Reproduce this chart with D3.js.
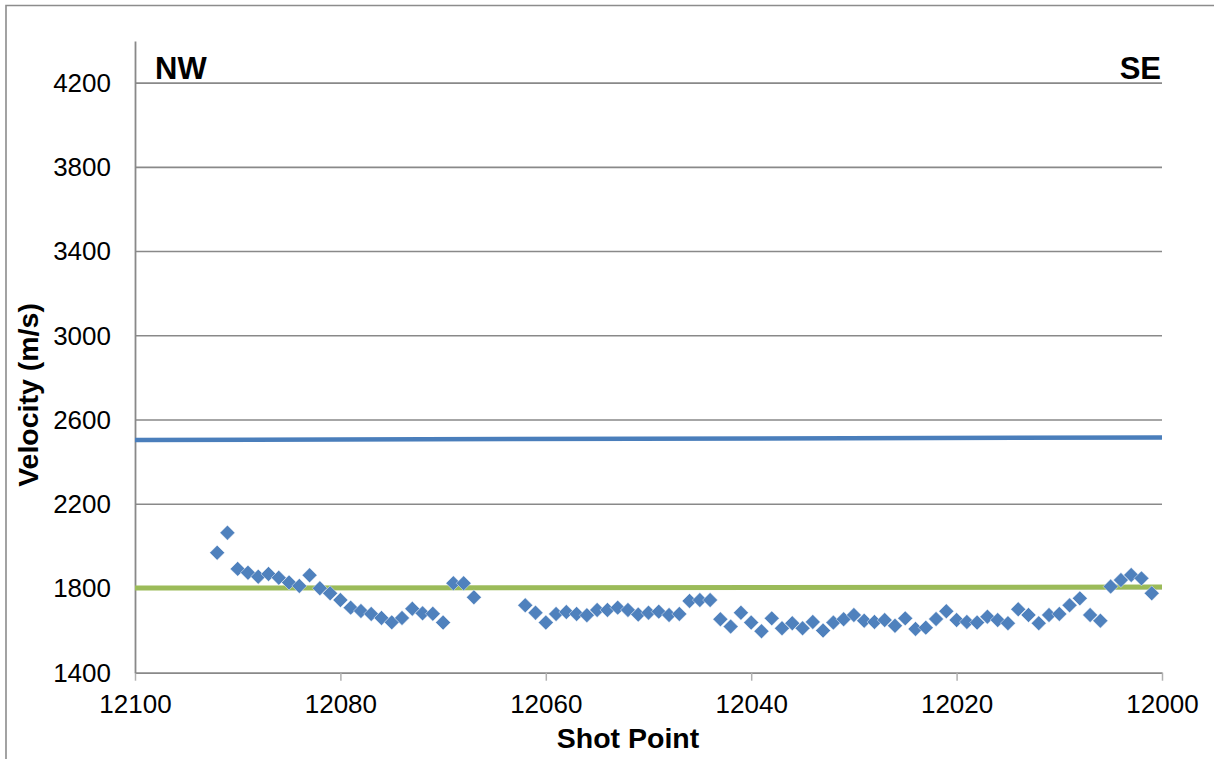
<!DOCTYPE html>
<html>
<head>
<meta charset="utf-8">
<script src="https://cdn.jsdelivr.net/npm/d3@7"></script>
<style>
  html, body { margin: 0; padding: 0; background: #fff; }
  svg { display: block; font-family: "Liberation Sans", Arial, sans-serif; }
</style>
</head>
<body>
<svg id="chart" width="1214" height="759"></svg>
<script>
// ---- data ----
const shotPoints = [
  12092, 12091, 12090, 12089, 12088, 12087, 12086, 12085, 12084, 12083,
  12082, 12081, 12080, 12079, 12078, 12077, 12076, 12075, 12074, 12073,
  12072, 12071, 12070, 12069, 12068, 12067,
  12062, 12061, 12060, 12059, 12058, 12057, 12056, 12055, 12054, 12053,
  12052, 12051, 12050, 12049, 12048, 12047, 12046, 12045, 12044, 12043,
  12042, 12041, 12040, 12039, 12038, 12037, 12036, 12035, 12034, 12033,
  12032, 12031, 12030, 12029, 12028, 12027, 12026, 12025, 12024, 12023,
  12022, 12021, 12020, 12019, 12018, 12017, 12016, 12015, 12014, 12013,
  12012, 12011, 12010, 12009, 12008, 12007, 12006, 12005, 12004, 12003,
  12002, 12001
];
const velocities = [
  1970, 2065, 1893, 1875, 1856, 1869, 1851, 1828, 1812, 1863,
  1801, 1777, 1745, 1709, 1693, 1679, 1660, 1639, 1660, 1704,
  1682, 1680, 1638, 1825, 1825, 1758,
  1720, 1685, 1638, 1679, 1688, 1679, 1673, 1698, 1698, 1709,
  1698, 1676, 1685, 1690, 1674, 1679, 1741, 1745, 1745, 1654,
  1619, 1685, 1638, 1597, 1658, 1611, 1635, 1611, 1641, 1600,
  1638, 1654, 1674, 1647, 1641, 1650, 1623, 1658, 1608, 1614,
  1655, 1692, 1650, 1641, 1638, 1666, 1650, 1635, 1701, 1674,
  1635, 1674, 1679, 1720, 1753, 1674, 1647, 1809, 1840, 1864,
  1848, 1777
];
const blueLineShots = [12100, 12000];
const blueLineValues = [2505, 2517];
const greenLineShots = [12100, 12000];
const greenLineValues = [1802, 1807];
const yTicks = [1400, 1800, 2200, 2600, 3000, 3400, 3800, 4200];
const xTicks = [12100, 12080, 12060, 12040, 12020, 12000];
const xTitle = "Shot Point";
const yTitle = "Velocity (m/s)";
const leftLabel = "NW";
const rightLabel = "SE";

// ---- layout ----
const svg = d3.select("#chart");
const plot = { left: 135, right: 1162, top: 41, bottom: 672.7 };
const x = d3.scaleLinear().domain([12100, 12000]).range([plot.left, plot.right]);
const y = d3.scaleLinear().domain([1400, 4400]).range([plot.bottom, plot.top]);
const gridColor = "#898989";

// outer border
svg.append("path")
  .attr("d", `M6,770 L6,5.5 L1230,5.5`)
  .attr("fill", "none").attr("stroke", "#8c8c8c").attr("stroke-width", 1.6);

// gridlines
svg.append("g").selectAll("line").data(yTicks.filter(d => d > 1400)).join("line")
  .attr("x1", plot.left).attr("x2", plot.right)
  .attr("y1", d => y(d)).attr("y2", d => y(d))
  .attr("stroke", gridColor).attr("stroke-width", 1.6);

// x axis
const xAxis = d3.axisBottom(x).tickValues(xTicks).tickFormat(d3.format("d"))
  .tickSizeInner(8).tickSizeOuter(0).tickPadding(14);
const gx = svg.append("g").attr("transform", `translate(0,${plot.bottom})`).call(xAxis);
gx.select(".domain").attr("stroke", gridColor).attr("stroke-width", 1.8);
gx.selectAll(".tick line").attr("stroke", "#b0b0b0").attr("stroke-width", 1.5);
gx.selectAll(".tick text").attr("font-size", 26).attr("fill", "#000")
  .attr("font-family", "Liberation Sans, Arial, sans-serif");

// y axis
const yAxis = d3.axisLeft(y).tickValues(yTicks).tickFormat(d3.format("d"))
  .tickSize(0).tickPadding(24);
const gy = svg.append("g").attr("transform", `translate(${plot.left},0)`).call(yAxis);
gy.select(".domain").attr("stroke", gridColor).attr("stroke-width", 1.8);
gy.selectAll(".tick text").attr("font-size", 26).attr("fill", "#000")
  .attr("font-family", "Liberation Sans, Arial, sans-serif");

// reference lines
const line = d3.line().x(d => x(d[0])).y(d => y(d[1]));
svg.append("path")
  .datum(d3.zip(blueLineShots, blueLineValues))
  .attr("d", line).attr("fill", "none")
  .attr("stroke", "#4A7EBB").attr("stroke-width", 4.5);
svg.append("path")
  .datum(d3.zip(greenLineShots, greenLineValues))
  .attr("d", line).attr("fill", "none")
  .attr("stroke", "#9BBB59").attr("stroke-width", 5);

// markers
const pts = d3.zip(shotPoints, velocities);
const diamond = d3.symbol().type(d3.symbolSquare).size(112);
svg.append("g").selectAll("path").data(pts).join("path")
  .attr("d", diamond)
  .attr("transform", d => `translate(${x(d[0])},${y(d[1])}) rotate(45)`)
  .attr("fill", "#4F81BD")
  .attr("stroke", "#ffffff").attr("stroke-opacity", 0.55).attr("stroke-width", 0.8);

// corner labels
svg.append("text").attr("x", 155).attr("y", 78.5)
  .attr("font-size", 31).attr("font-weight", "bold").text(leftLabel);
svg.append("text").attr("x", 1161).attr("y", 78.5).attr("text-anchor", "end")
  .attr("font-size", 31).attr("font-weight", "bold").text(rightLabel);

// axis titles
svg.append("text").attr("x", 628).attr("y", 748).attr("text-anchor", "middle")
  .attr("font-size", 28.5).attr("font-weight", "bold").text(xTitle);
svg.append("text").attr("transform", "translate(38,395) rotate(-90)")
  .attr("text-anchor", "middle")
  .attr("font-size", 28.5).attr("font-weight", "bold").text(yTitle);
</script>
</body>
</html>
